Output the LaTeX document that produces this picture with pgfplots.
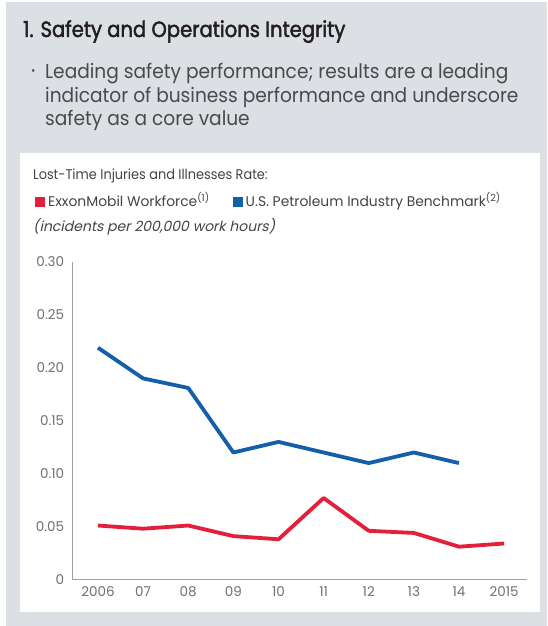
\documentclass[border=0pt]{standalone}
\usepackage{pgfplots}
\pgfplotsset{compat=1.18}
\usepackage{fontspec}
\setmainfont{Poppins}[FakeStretch=0.93, AutoFakeSlant=0.2]
\newfontfamily\titlefont{Poppins}[FakeStretch=0.89, FakeBold=2.0]
\newfontfamily\legfont{Poppins}[FakeStretch=0.92, AutoFakeSlant=0.2]
\newfontfamily\legrowfont{Poppins}[FakeStretch=0.99]
\newfontfamily\unitfont{Poppins}[FakeStretch=1.0, AutoFakeSlant=0.22]
\newfontfamily\tickfam{Poppins}
\definecolor{bggray}{HTML}{DCDFE3}
\definecolor{exred}{HTML}{E3203B}
\definecolor{exblue}{HTML}{145FA9}
\definecolor{titlec}{HTML}{231F20}
\definecolor{bodyc}{HTML}{4A4A4C}
\definecolor{legc}{HTML}{444444}
\definecolor{tickc}{HTML}{707070}
\definecolor{axisgray}{HTML}{A0A0A0}
\begin{document}
\begin{tikzpicture}[x=1pt,y=1pt]
\useasboundingbox (0pt,0pt) rectangle (547pt,626pt);
\fill[white] (0pt,0pt) rectangle (547pt,626pt);
\fill[bggray] (6pt,0pt) rectangle (547pt,623.5pt);
\fill[white] (20pt,14pt) rectangle (540pt,473pt);
\node[anchor=base west, inner sep=0, text=titlec, font=\titlefont\fontsize{22}{26}\selectfont] at (23pt,589pt) {1. Safety and Operations Integrity};
\node[anchor=base west, inner sep=0, text=bodyc, font=\fontsize{22}{24}\selectfont] at (31pt,547pt) {\textperiodcentered};
\node[anchor=base west, inner sep=0, text=bodyc, font=\fontsize{20}{24}\selectfont] at (45pt,547pt) {Leading safety performance; results are a leading};
\node[anchor=base west, inner sep=0, text=bodyc, font=\fontsize{20}{24}\selectfont] at (45pt,523.5pt) {indicator of business performance and underscore};
\node[anchor=base west, inner sep=0, text=bodyc, font=\fontsize{20}{24}\selectfont] at (45pt,500pt) {safety as a core value};
\node[anchor=base west, inner sep=0, text=legc, font=\legfont\fontsize{14}{16}\selectfont] at (33pt,446pt) {Lost-Time Injuries and Illnesses Rate:};
\node[anchor=base west, inner sep=0, text=legc, font=\legrowfont\fontsize{14}{16}\selectfont] at (35pt,419pt) {\textcolor{exred}{\rule{10pt}{10pt}}\hspace{3pt}ExxonMobil Workforce\textsuperscript{(1)}\hspace{23pt}\textcolor{exblue}{\rule{10pt}{10pt}}\hspace{3pt}U.S. Petroleum Industry Benchmark\textsuperscript{(2)}};
\node[anchor=base west, inner sep=0, text=legc, font=\unitfont\fontsize{14}{16}\selectfont\itshape] at (33pt,394pt) {(incidents per 200,000 work hours)};
\begin{axis}[
  at={(72.7pt,46.5pt)}, anchor=south west,
  scale only axis, width=454pt, height=317.5pt,
  xmin=-0.56, xmax=9.5, ymin=0, ymax=0.30,
  axis x line*=bottom, axis y line*=left,
  axis line style={draw=axisgray, line width=0.8pt, -},
  xtick={0,...,9},
  xticklabels={2006,07,08,09,10,11,12,13,14,2015},
  ytick={0,0.05,0.10,0.15,0.20,0.25,0.30},
  yticklabels={0,0.05,0.10,0.15,0.20,0.25,0.30},
  major tick length=0pt,
  tick label style={font=\tickfam\fontsize{13.5}{15}\selectfont, text=tickc},
  yticklabel style={xshift=-5pt},
  xticklabel style={yshift=-4pt},
  clip=false,
]
\addplot[exred, line width=3.8pt, line join=round]
  coordinates {(0,0.051) (1,0.048) (2,0.051) (3,0.041) (4,0.038) (5,0.077) (6,0.046) (7,0.044) (8,0.031) (9,0.034)};
\addplot[exblue, line width=3.8pt, line join=round]
  coordinates {(0,0.219) (1,0.190) (2,0.181) (3,0.120) (4,0.130) (5,0.120) (6,0.110) (7,0.120) (8,0.110)};
\end{axis}
\end{tikzpicture}
\end{document}
